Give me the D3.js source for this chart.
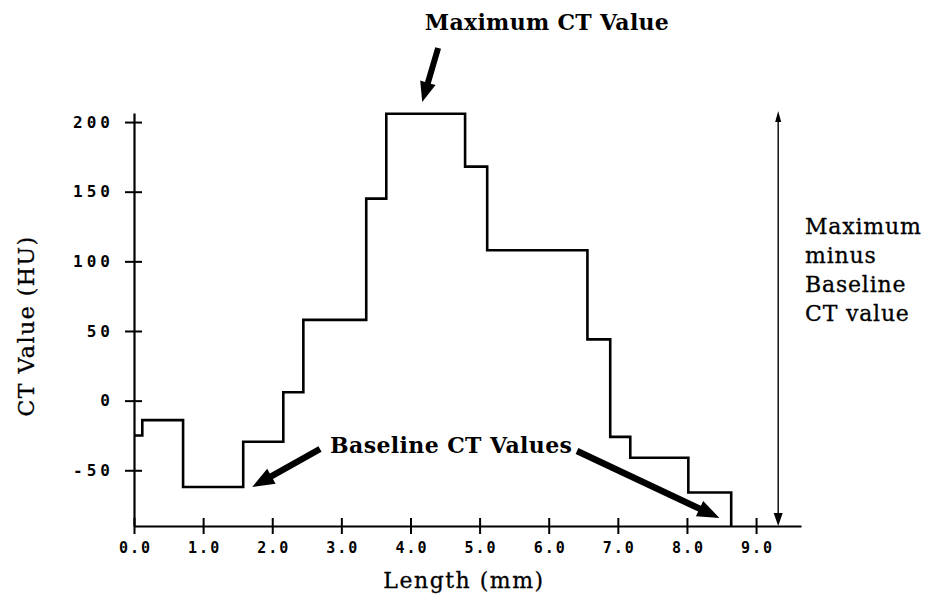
<!DOCTYPE html>
<html>
<head>
<meta charset="utf-8">
<script src="https://cdn.jsdelivr.net/npm/d3@7/dist/d3.min.js"></script>
<style>
  html, body { margin: 0; padding: 0; background: #fff; }
  svg { display: block; }
  .tick text { font-family: "DejaVu Sans Mono", "Liberation Mono", monospace; font-weight: bold; }
</style>
</head>
<body>
<svg id="chart" width="930" height="600"></svg>
<script>
// ---- data ----
const stepEdges  = [0, 0.12, 0.71, 1.58, 2.16, 2.45, 3.36, 3.65, 4.79, 5.11, 6.56, 6.89, 7.18, 8.02, 8.64];
const stepValues = [-25, -14, -62, -29.5, 6, 58, 145, 206, 168, 108, 44, -26, -41, -66];
const xTicks = [0, 1, 2, 3, 4, 5, 6, 7, 8, 9];
const yTicks = [-50, 0, 50, 100, 150, 200];
const xTitle = "Length (mm)";
const yTitle = "CT Value (HU)";
const maxLabel = "Maximum CT Value";
const baseLabel = "Baseline CT Values";
const diffLabel = ["Maximum", "minus", "Baseline", "CT value"];

const svg = d3.select("#chart");
const x = d3.scaleLinear().domain([0, 9.65]).range([134, 801]);
const y = d3.scaleLinear().domain([-90, 206.5]).range([526, 113]);

// ---- axes ----
const xAxis = d3.axisBottom(x).tickValues(xTicks).tickFormat(d3.format(".1f"))
  .tickSizeInner(8).tickSizeOuter(0).tickPadding(8);
const gx = svg.append("g").attr("transform", `translate(0,${y(-90)})`).call(xAxis);
gx.select(".domain").attr("stroke", "#000").attr("stroke-width", 2.2);
gx.selectAll(".tick line").attr("stroke", "#000").attr("stroke-width", 2).attr("y1", -8);
gx.selectAll(".tick text").attr("font-size", 15).attr("fill", "#000").attr("letter-spacing", 2).attr("dx", 1);

const yAxis = d3.axisLeft(y).tickValues(yTicks).tickFormat(d => String(d))
  .tickSizeInner(9).tickSizeOuter(0).tickPadding(11);
const gy = svg.append("g").attr("transform", `translate(${x(0)},0)`).call(yAxis);
gy.select(".domain").attr("stroke", "#000").attr("stroke-width", 2.2);
gy.selectAll(".tick line").attr("stroke", "#000").attr("stroke-width", 2).attr("x1", 8);
gy.selectAll(".tick text").attr("font-size", 16).attr("fill", "#000").attr("letter-spacing", 4);

// ---- step line ----
const pts = stepValues.map((v, i) => [stepEdges[i], v]);
pts.push([stepEdges[stepEdges.length - 1], -90]);
svg.append("path")
  .datum(pts)
  .attr("fill", "none")
  .attr("stroke", "#000")
  .attr("stroke-width", 2.6)
  .attr("d", d3.line().x(d => x(d[0])).y(d => y(d[1])).curve(d3.curveStepAfter));

// ---- titles ----
svg.append("text").attr("x", 464).attr("y", 588).attr("text-anchor", "middle")
  .attr("font-family", "DejaVu Serif").attr("font-size", 22).attr("letter-spacing", 1.5)
  .attr("stroke", "#000").attr("stroke-width", 0.3).text(xTitle);
svg.append("text").attr("transform", "translate(34,326) rotate(-90)").attr("text-anchor", "middle")
  .attr("font-family", "DejaVu Serif").attr("font-size", 22).attr("letter-spacing", 1.5)
  .attr("stroke", "#000").attr("stroke-width", 0.3).text(yTitle);

// ---- annotations ----
function fatArrow(x1, y1, x2, y2, w, headL, headW) {
  const dx = x2 - x1, dy = y2 - y1, L = Math.hypot(dx, dy);
  const ux = dx / L, uy = dy / L, px = -uy, py = ux;
  const bx = x2 - ux * headL, by = y2 - uy * headL;
  const p = [
    [x1 + px * w / 2, y1 + py * w / 2],
    [bx + px * w / 2, by + py * w / 2],
    [bx + px * headW / 2, by + py * headW / 2],
    [x2, y2],
    [bx - px * headW / 2, by - py * headW / 2],
    [bx - px * w / 2, by - py * w / 2],
    [x1 - px * w / 2, y1 - py * w / 2]
  ];
  svg.append("path").attr("d", "M" + p.map(q => q.join(",")).join("L") + "Z").attr("fill", "#000");
}

svg.append("text").attr("x", 547).attr("y", 30).attr("text-anchor", "middle")
  .attr("font-family", "DejaVu Serif").attr("font-weight", "bold").attr("font-size", 22)
  .attr("letter-spacing", 0.3).text(maxLabel);
fatArrow(x(4.40), 48, x(4.17), 102, 6, 20, 16);

svg.append("text").attr("x", 330).attr("y", 453)
  .attr("font-family", "DejaVu Serif").attr("font-weight", "bold").attr("font-size", 22)
  .attr("letter-spacing", 0.4).text(baseLabel);
fatArrow(320, 449, x(1.71), 487, 6.5, 22, 17);
fatArrow(577, 451, x(8.47), 518, 6.5, 22, 17);

// vertical difference arrow
const ax = x(9.32);
svg.append("line").attr("x1", ax).attr("x2", ax).attr("y1", y(206.5) + 4).attr("y2", y(-90) - 4)
  .attr("stroke", "#000").attr("stroke-width", 1.4);
svg.append("path").attr("d", `M${ax},${y(206.5) - 2}L${ax - 3},${y(206.5) + 9}L${ax + 3},${y(206.5) + 9}Z`).attr("fill", "#000");
svg.append("path").attr("d", `M${ax},${y(-90)}L${ax - 4.5},${y(-90) - 13}L${ax + 4.5},${y(-90) - 13}Z`).attr("fill", "#000");

const dt = svg.append("text").attr("font-family", "DejaVu Serif").attr("font-size", 22)
  .attr("letter-spacing", 0.8).attr("stroke", "#000").attr("stroke-width", 0.3);
diffLabel.forEach((s, i) => dt.append("tspan").attr("x", 805).attr("y", 234 + i * 29).text(s));
</script>
</body>
</html>
